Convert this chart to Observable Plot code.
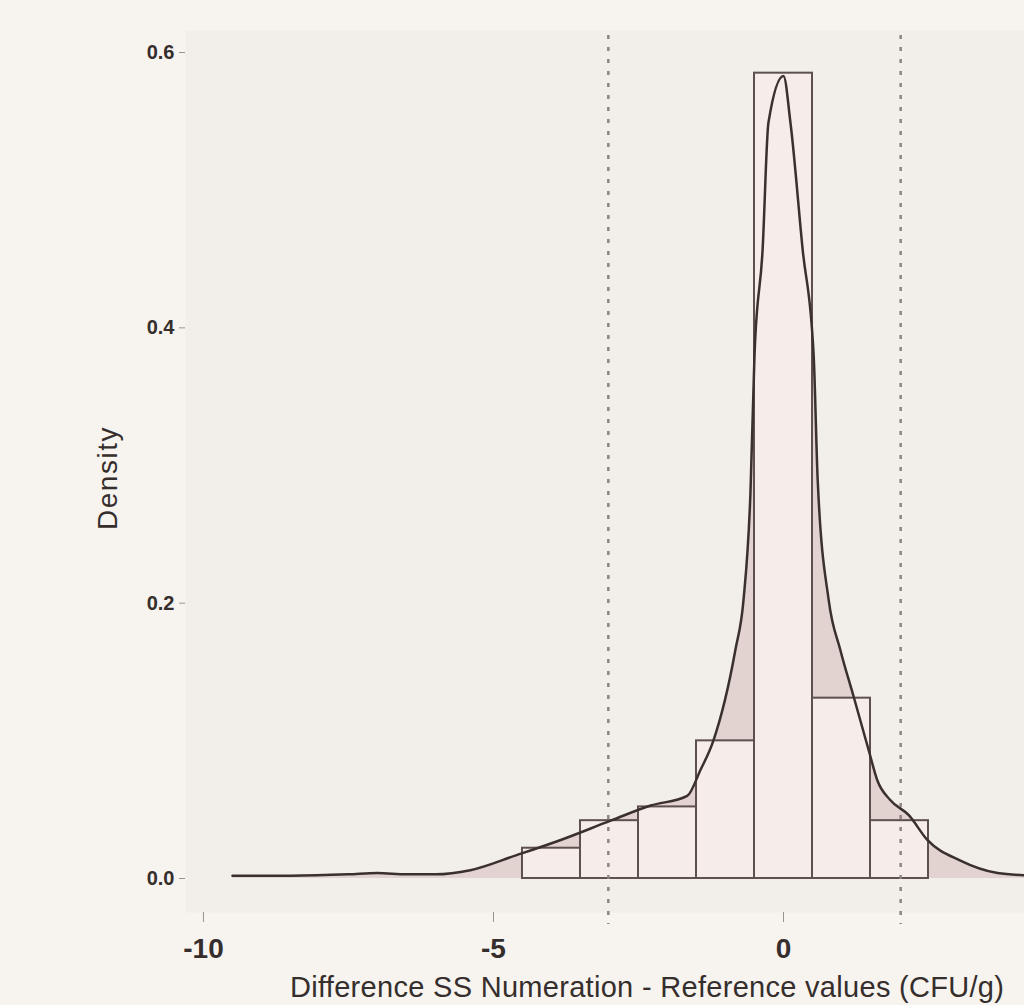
<!DOCTYPE html>
<html>
<head>
<meta charset="utf-8">
<script src="https://cdn.jsdelivr.net/npm/d3@7"></script>
<script src="https://cdn.jsdelivr.net/npm/@observablehq/plot@0.6"></script>
<style>
  html, body { margin: 0; padding: 0; background: #f7f4f0; overflow: hidden; width: 1024px; height: 1005px; }
  #chart svg { display: block; overflow: hidden; }
</style>
</head>
<body>
<div id="chart"></div>
<script>
// Histogram bins (width 1, centred on integers)
const binStart = [-4.5, -3.5, -2.5, -1.5, -0.5, 0.5, 1.5];
const binEnd   = [-3.5, -2.5, -1.5, -0.5, 0.5, 1.5, 2.5];
const binDensity = [0.022, 0.042, 0.052, 0.100, 0.585, 0.131, 0.042];

// Kernel density curve
const kdeX = [-9.5, -8.5, -7.5, -7.0, -6.5, -6.0, -5.4, -4.6, -3.84, -2.98, -2.29, -1.66, -1.43, -1.21, -0.83, -0.69, -0.57, -0.50, -0.36, -0.26, 0.0, 0.12, 0.33, 0.52, 0.59, 0.78, 0.98, 1.21, 1.47, 1.62, 1.84, 2.16, 2.48, 3.05, 3.69, 4.3];
const kdeY = [0.002, 0.002, 0.003, 0.004, 0.003, 0.003, 0.006, 0.017, 0.028, 0.042, 0.053, 0.060, 0.079, 0.100, 0.166, 0.202, 0.280, 0.380, 0.457, 0.549, 0.583, 0.549, 0.457, 0.380, 0.289, 0.202, 0.166, 0.132, 0.093, 0.071, 0.057, 0.046, 0.028, 0.013, 0.004, 0.002];

// Limits of agreement (dashed lines)
const limits = [-3.02, 2.02];

// Axis ticks
const xTicks = [-10, -5, 0];
const yTicks = [0, 0.2, 0.4, 0.6];

const xLabel = "Difference SS Numeration - Reference values (CFU/g)";
const yLabel = "Density";

const bins = binStart.map((s, i) => ({x1: s, x2: binEnd[i], y: binDensity[i]}));
const kde = kdeX.map((x, i) => ({x, y: kdeY[i]}));

const plot = Plot.plot({
  width: 1024,
  height: 1005,
  marginLeft: 185,
  marginRight: 0,
  marginTop: 30,
  marginBottom: 93,
  style: {background: "transparent", fontFamily: "Liberation Sans, Arial, sans-serif", color: "#352e2c"},
  x: {domain: [-10.31, 4.155], ticks: xTicks},
  y: {domain: [-0.0247, 0.616], ticks: yTicks},
  marks: [
    Plot.frame({fill: "#f2eee9", stroke: "none"}),
    Plot.areaY(kde, {x: "x", y: "y", fill: "#e2d3d0", curve: "monotone-x"}),
    Plot.rectY(bins, {x1: "x1", x2: "x2", y: "y", fill: "#f6ecea", stroke: "#5e504d", strokeWidth: 2}),
    Plot.lineY(kde, {x: "x", y: "y", stroke: "#3a302e", strokeWidth: 2.5, curve: "monotone-x"}),
    Plot.ruleX(limits, {stroke: "#8e8482", strokeWidth: 2.5, strokeDasharray: "4,8", insetTop: 5, insetBottom: -12}),
    Plot.axisX({ticks: xTicks, tickSize: 10, tickPadding: 16, fontSize: 28, fontWeight: "bold", label: null, stroke: "#9a9290", tickFormat: d => String(d)}),
    Plot.axisY({ticks: yTicks, tickSize: 6, tickPadding: 5, fontSize: 20, fontWeight: "bold", label: null, stroke: "#9a9290", tickFormat: d3.format(".1f")})
  ]
});

document.getElementById("chart").appendChild(plot);

const svg = d3.select(plot);
svg.append("text")
  .attr("x", 290).attr("y", 997)
  .attr("text-anchor", "start")
  .attr("fill", "#352e2c")
  .attr("font-family", "Liberation Sans, Arial, sans-serif")
  .attr("font-size", 29)
  .attr("letter-spacing", 0.3)
  .text(xLabel);
svg.append("text")
  .attr("transform", "translate(117,478) rotate(-90)")
  .attr("text-anchor", "middle")
  .attr("fill", "#352e2c")
  .attr("font-family", "Liberation Sans, Arial, sans-serif")
  .attr("font-size", 28)
  .attr("letter-spacing", 1.5)
  .text(yLabel);
</script>
</body>
</html>
